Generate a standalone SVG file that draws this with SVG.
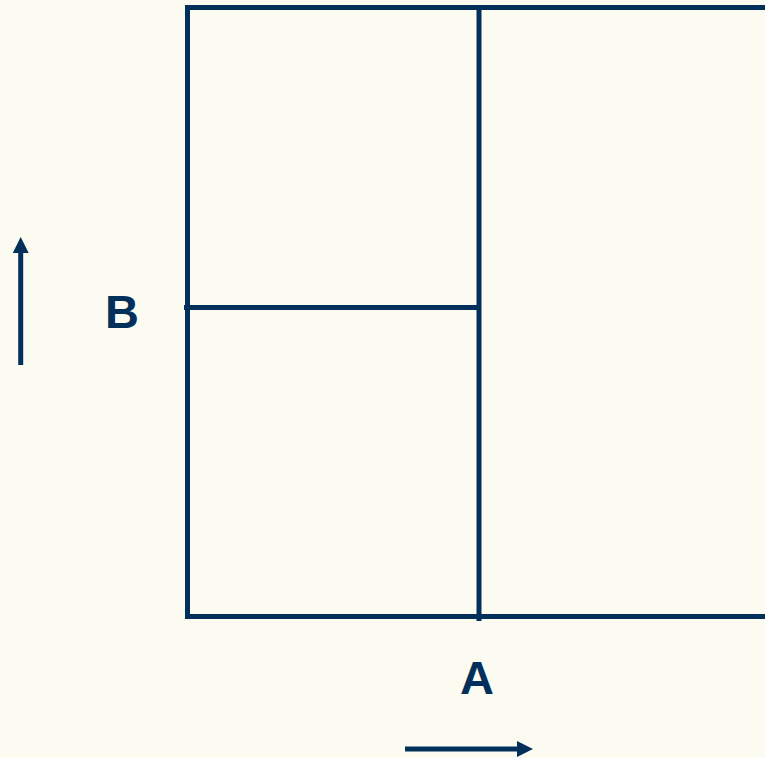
<svg xmlns="http://www.w3.org/2000/svg" width="765" height="758" viewBox="0 0 765 758">
  <style>
    .ln { stroke: #03305b; stroke-width: 5; fill: none; }
    .lbl { font-family: "Liberation Sans", Arial, sans-serif; font-weight: bold; font-size: 47px; fill: #03305b; text-anchor: middle; }
  </style>
  <defs>
    <marker id="ah" viewBox="0 0 16 16" refX="0" refY="8" markerWidth="16" markerHeight="16" markerUnits="userSpaceOnUse" orient="auto">
      <path d="M0,0 L16,8 L0,16 Z" fill="#03305b"/>
    </marker>
  </defs>
  <rect width="765" height="758" fill="#fbfbf1"/>
  <g id="grid">
    <path class="ln" d="M187.5,7.5 H770 M187.5,616.5 H770 M187.5,5 V619 M479,5 V621 M184,307.5 H479"/>
  </g>
  <g id="connectors">
    <line class="ln" x1="20.7" y1="365" x2="20.7" y2="253" marker-end="url(#ah)"/>
    <line class="ln" x1="405" y1="749" x2="517" y2="749" marker-end="url(#ah)"/>
  </g>
  <g id="label-B"><text class="lbl" x="122" y="328">B</text></g>
  <g id="label-A"><text class="lbl" x="477" y="694">A</text></g>
</svg>
